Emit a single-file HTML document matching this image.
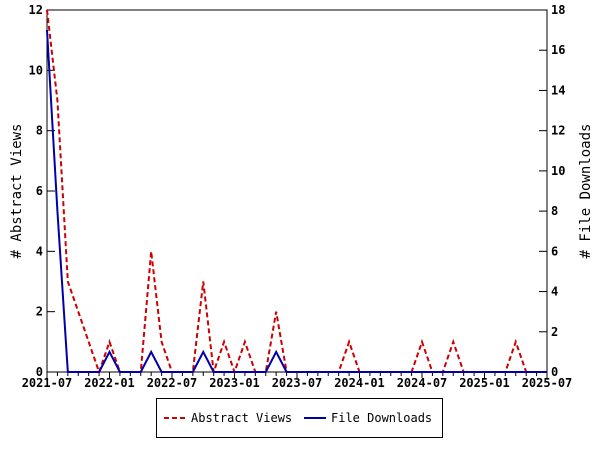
<!DOCTYPE html>
<html><head><meta charset="utf-8"><style>
body{margin:0;background:#fff}
svg text{font-family:"DejaVu Sans Mono","Liberation Mono",monospace}
</style></head><body>
<svg id="c" width="600" height="450" viewBox="0 0 600 450"></svg>
<script>
const months = 49; // 2021-07 .. 2025-07
const xTickLabels = ["2021-07","2022-01","2022-07","2023-01","2023-07","2024-01","2024-07","2025-01","2025-07"];
const leftTicks = [0,2,4,6,8,10,12];
const rightTicks = [0,2,4,6,8,10,12,14,16,18];
const abstractViews = [12,9,3,2,1,0,1,0,0,0,4,1,0,0,0,3,0,1,0,1,0,0,2,0,0,0,0,0,0,1,0,0,0,0,0,0,1,0,0,1,0,0,0,0,0,1,0,0,0];
const fileDownloads = [17,8,0,0,0,0,1,0,0,0,1,0,0,0,0,1,0,0,0,0,0,0,1,0,0,0,0,0,0,0,0,0,0,0,0,0,0,0,0,0,0,0,0,0,0,0,0,0,0];

const NS="http://www.w3.org/2000/svg", svg=document.getElementById('c');
const L=47,R=547,T=10,B=372;
const x=i=>L+(R-L)*i/(months-1);
const yL=v=>B-(B-T)*v/12;
const yR=v=>B-(B-T)*v/18;
function el(tag,attrs,parent){const e=document.createElementNS(NS,tag);for(const k in attrs)e.setAttribute(k,attrs[k]);(parent||svg).appendChild(e);return e;}

const frame=el('rect',{x:L,y:T,width:R-L,height:B-T,fill:'none',stroke:'#000','stroke-width':1});



for(let i=0;i<months;i++){
  const t=el('line',{x1:x(i),x2:x(i),y1:B,y2:B+(i%6===0?6:4),stroke:'#000'});
  
  
}
xTickLabels.forEach((s,k)=>{
  const t=el('text',{x:x(k*6),y:B+15,'text-anchor':'middle','font-size':12,'font-weight':'bold'});
  t.textContent=s;
  
  
});
leftTicks.forEach(v=>{
  const l=el('line',{x1:L,x2:L+8,y1:yL(v),y2:yL(v),stroke:'#000'});
  
  
  const t=el('text',{x:L-4,y:yL(v)+4,'text-anchor':'end','font-size':12,'font-weight':'bold'});
  t.textContent=v;
  
  
});
rightTicks.forEach(v=>{
  const l=el('line',{x1:R-8,x2:R,y1:yR(v),y2:yR(v),stroke:'#000'});
  
  
  const t=el('text',{x:R+4,y:yR(v)+4,'text-anchor':'start','font-size':12,'font-weight':'bold'});
  t.textContent=v;
  
  
});
const yt=el('text',{x:0,y:0,transform:`translate(21,${(T+B)/2}) rotate(-90)`,'text-anchor':'middle','font-size':14});
yt.textContent='# Abstract Views';


const yt2=el('text',{x:0,y:0,transform:`translate(590,${(T+B)/2}) rotate(-90)`,'text-anchor':'middle','font-size':14});
yt2.textContent='# File Downloads';



const p1=el('polyline',{points:abstractViews.map((v,i)=>x(i)+','+yL(v)).join(' '),fill:'none',stroke:'#cc0000','stroke-width':2,'stroke-dasharray':'5,3'});


const p2=el('polyline',{points:fileDownloads.map((v,i)=>x(i)+','+yR(v)).join(' '),fill:'none',stroke:'#0000aa','stroke-width':2});



const lg=el('g',{});


el('rect',{x:156.5,y:398.5,width:286,height:39,fill:'#fff',stroke:'#000'},lg);
el('line',{x1:164,x2:186,y1:418,y2:418,stroke:'#cc0000','stroke-width':2,'stroke-dasharray':'5,3'},lg);
const a=el('text',{x:191,y:422,'font-size':12},lg);a.textContent='Abstract Views';


el('line',{x1:304,x2:326,y1:418,y2:418,stroke:'#0000aa','stroke-width':2},lg);
const b=el('text',{x:331,y:422,'font-size':12},lg);b.textContent='File Downloads';


</script>
</body></html>
